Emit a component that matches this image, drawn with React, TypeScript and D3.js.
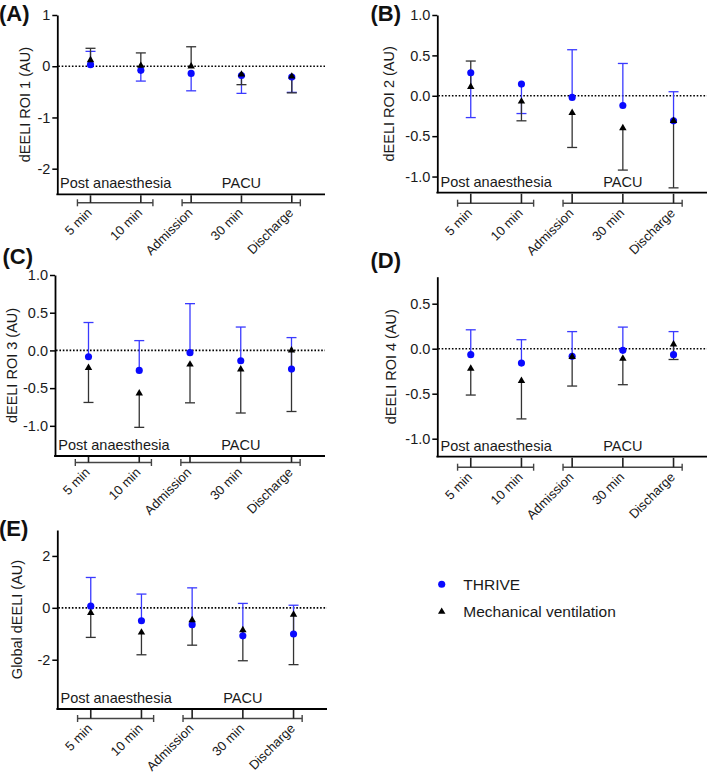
import * as d3 from "d3";
import React, { useEffect, useRef } from "react";

const FONT = "'Liberation Sans', Arial, Helvetica, sans-serif";

const categories = ["5 min", "10 min", "Admission", "30 min", "Discharge"];
const groupLabels = ["Post anaesthesia", "PACU"];
const groupMembers = [
  ["5 min", "10 min"],
  ["Admission", "30 min", "Discharge"],
];
const seriesNames = ["THRIVE", "Mechanical ventilation"];

// mean values and the end of the (one-sided) error bar
const roi1Thrive = [0.03, -0.08, -0.14, -0.18, -0.21];
const roi1ThriveBar = [0.29, -0.29, -0.48, -0.53, -0.51];
const roi1Mv = [0.12, 0.01, 0.0, -0.16, -0.2];
const roi1MvBar = [0.35, 0.26, 0.38, -0.36, -0.52];

const roi2Thrive = [0.285, 0.145, -0.02, -0.12, -0.31];
const roi2ThriveBar = [-0.27, -0.22, 0.57, 0.4, 0.05];
const roi2Mv = [0.11, -0.07, -0.21, -0.4, -0.31];
const roi2MvBar = [0.43, -0.31, -0.64, -0.92, -1.14];

const roi3Thrive = [-0.084, -0.265, -0.03, -0.137, -0.248];
const roi3ThriveBar = [0.37, 0.13, 0.62, 0.31, 0.17];
const roi3Mv = [-0.23, -0.57, -0.186, -0.25, 0.0];
const roi3MvBar = [-0.69, -1.02, -0.695, -0.83, -0.81];

const roi4Thrive = [-0.066, -0.16, -0.085, -0.018, -0.066];
const roi4ThriveBar = [0.21, 0.1, 0.19, 0.24, 0.19];
const roi4Mv = [-0.22, -0.357, -0.09, -0.11, 0.048];
const roi4MvBar = [-0.515, -0.78, -0.415, -0.4, -0.12];

const globalThrive = [0.064, -0.5, -0.65, -1.08, -1.01];
const globalThriveBar = [1.17, 0.53, 0.77, 0.17, 0.1];
const globalMv = [-0.19, -0.95, -0.47, -0.86, -0.26];
const globalMvBar = [-1.14, -1.81, -1.44, -2.04, -2.19];

const panels = [
  {
    tag: "(A)", title: "dEELI ROI 1 (AU)",
    thrive: roi1Thrive, thriveBar: roi1ThriveBar, mv: roi1Mv, mvBar: roi1MvBar,
    domain: [-2.5, 1], ticks: [1, 0, -1, -2], digits: 0,
    box: { left: 57.3, right: 325, top: 15, bottom: 194.3, tagX: -1, tagY: 20.5, titleX: 25, bracket: 8.5 },
  },
  {
    tag: "(B)", title: "dEELI ROI 2 (AU)",
    thrive: roi2Thrive, thriveBar: roi2ThriveBar, mv: roi2Mv, mvBar: roi2MvBar,
    domain: [-1.2, 1], ticks: [1, 0.5, 0, -0.5, -1], digits: 1,
    box: { left: 437.3, right: 707, top: 15, bottom: 192.7, tagX: 370.5, tagY: 20.5, titleX: 389, bracket: 10.5 },
  },
  {
    tag: "(C)", title: "dEELI ROI 3 (AU)",
    thrive: roi3Thrive, thriveBar: roi3ThriveBar, mv: roi3Mv, mvBar: roi3MvBar,
    domain: [-1.4, 1], ticks: [1, 0.5, 0, -0.5, -1], digits: 1,
    box: { left: 55, right: 325, top: 275, bottom: 456, tagX: 2.5, tagY: 264, titleX: 12, bracket: 6.5 },
  },
  {
    tag: "(D)", title: "dEELI ROI 4 (AU)",
    thrive: roi4Thrive, thriveBar: roi4ThriveBar, mv: roi4Mv, mvBar: roi4MvBar,
    domain: [-1.2, 0.8], ticks: [0.5, 0, -0.5, -1], digits: 1,
    box: { left: 437.3, right: 707, top: 276.7, bottom: 456.7, tagX: 370.5, tagY: 268, titleX: 391, bracket: 10.5 },
  },
  {
    tag: "(E)", title: "Global dEELI (AU)",
    thrive: globalThrive, thriveBar: globalThriveBar, mv: globalMv, mvBar: globalMvBar,
    domain: [-3.9, 3], ticks: [2, 0, -2], digits: 0,
    box: { left: 57.3, right: 327, top: 530, bottom: 709, tagX: -1, tagY: 536, titleX: 17, bracket: 9.5 },
  },
];

// bracket overhang (in steps) left / right of each group
const bracketPad = [
  [0.26, 0.24],
  [0.18, 0.17],
];

const BLUE = "#0a0aff";
const BLUE_BAR = "#3a3aff";
const DARK = "#000";
const DARK_BAR = "#333";

const App = () => {
  const svgRef = useRef<SVGSVGElement>(null);

  const renderSVG = () => {
    const svg = d3.select(svgRef.current);
    svg.selectAll("*").remove();
    svg.append("rect").attr("width", 709).attr("height", 774).attr("fill", "#fff");

    const circle = d3.symbol(d3.symbolCircle, 40);
    const triangle = d3.symbol(d3.symbolTriangle, 24);

    panels.forEach((p) => {
      const b = p.box;
      const y = d3.scaleLinear().domain(p.domain).range([b.bottom, b.top]);
      const x = d3
        .scalePoint<string>()
        .domain(categories)
        .range([b.left, b.right])
        .padding(0.66);
      const step = x.step();
      const g = svg.append("g");

      // y axis
      g.append("g")
        .attr("transform", `translate(${b.left},0)`)
        .call(
          d3
            .axisLeft(y)
            .tickValues(p.ticks)
            .tickFormat((d) => (+d).toFixed(p.digits))
            .tickSize(5)
            .tickPadding(2)
            .tickSizeOuter(0)
        )
        .call((a) => {
          a.attr("font-size", 14.5).attr("font-family", FONT);
          a.select(".domain").attr("stroke-width", 1.8);
          a.selectAll(".tick line").attr("stroke-width", 1.5);
          a.selectAll(".tick text").attr("fill", "#1a1a1a");
        });

      // x axis line
      g.append("line")
        .attr("x1", b.left - 0.9)
        .attr("x2", b.right)
        .attr("y1", b.bottom)
        .attr("y2", b.bottom)
        .attr("stroke", "#000")
        .attr("stroke-width", 1.8);

      // zero reference
      g.append("line")
        .attr("x1", b.left + 1)
        .attr("x2", b.right)
        .attr("y1", y(0))
        .attr("y2", y(0))
        .attr("stroke", "#000")
        .attr("stroke-width", 1.6)
        .attr("stroke-dasharray", "1.6 1.8");

      // y title
      g.append("text")
        .attr("transform", `translate(${b.titleX},${(b.top + b.bottom) / 2}) rotate(-90)`)
        .attr("dy", "0.35em")
        .attr("text-anchor", "middle")
        .attr("font-family", FONT)
        .attr("font-size", 14.5)
        .attr("fill", "#1a1a1a")
        .text(p.title);

      // panel tag
      g.append("text")
        .attr("x", b.tagX)
        .attr("y", b.tagY)
        .attr("font-family", FONT)
        .attr("font-weight", "bold")
        .attr("font-size", 22)
        .attr("fill", "#111")
        .text(p.tag);

      // grouped category axis below
      const by = b.bottom + b.bracket;
      groupMembers.forEach((members, gi) => {
        const xs = members.map((m) => x(m) as number);
        const x1 = d3.min(xs)! - bracketPad[gi][0] * step;
        const x2 = d3.max(xs)! + bracketPad[gi][1] * step;
        const br = g.append("g").attr("stroke", "#444").attr("stroke-width", 1.4);
        br.append("line").attr("x1", x1).attr("x2", x2).attr("y1", by).attr("y2", by);
        [x1, x2].forEach((xx) =>
          br.append("line").attr("x1", xx).attr("x2", xx).attr("y1", by - 3.5).attr("y2", by + 3.5)
        );
        g.append("text")
          .attr("x", d3.mean(xs)!)
          .attr("y", b.bottom - 6)
          .attr("text-anchor", "middle")
          .attr("font-family", FONT)
          .attr("font-size", 14.5)
          .attr("fill", "#1a1a1a")
          .text(groupLabels[gi]);
      });

      categories.forEach((c) => {
        const cx = x(c) as number;
        g.append("line")
          .attr("x1", cx)
          .attr("x2", cx)
          .attr("y1", b.bottom + 1)
          .attr("y2", by)
          .attr("stroke", "#222")
          .attr("stroke-width", 1.6);
        g.append("text")
          .attr("transform", `translate(${cx - 1},${by + 7.5}) rotate(-45)`)
          .attr("dy", "0.35em")
          .attr("text-anchor", "end")
          .attr("font-family", FONT)
          .attr("font-size", 13)
          .attr("fill", "#1a1a1a")
          .text(c);
      });

      // error bars: THRIVE first, then mechanical ventilation
      const bars = [
        { mean: p.thrive, end: p.thriveBar, color: BLUE_BAR },
        { mean: p.mv, end: p.mvBar, color: DARK_BAR },
      ];
      bars.forEach((s) => {
        categories.forEach((c, i) => {
          const cx = x(c) as number;
          const eb = g.append("g").attr("stroke", s.color).attr("stroke-width", 1.3);
          eb.append("line").attr("x1", cx).attr("x2", cx).attr("y1", y(s.mean[i])).attr("y2", y(s.end[i]));
          eb.append("line").attr("x1", cx - 5).attr("x2", cx + 5).attr("y1", y(s.end[i])).attr("y2", y(s.end[i]));
        });
      });

      // markers
      categories.forEach((c, i) => {
        g.append("path")
          .attr("d", circle()!)
          .attr("transform", `translate(${x(c)},${y(p.thrive[i])})`)
          .attr("fill", BLUE);
      });
      categories.forEach((c, i) => {
        g.append("path")
          .attr("d", triangle()!)
          .attr("transform", `translate(${x(c)},${y(p.mv[i])})`)
          .attr("fill", DARK);
      });
    });

    // legend
    const legend = svg.append("g").attr("font-family", FONT).attr("font-size", 15.5).attr("fill", "#1a1a1a");
    const legendRows = [
      { sym: circle, color: BLUE, cy: 584.3 },
      { sym: triangle, color: DARK, cy: 611.7 },
    ];
    legendRows.forEach((r, i) => {
      legend
        .append("path")
        .attr("d", r.sym()!)
        .attr("transform", `translate(441.7,${r.cy})`)
        .attr("fill", r.color);
      legend
        .append("text")
        .attr("x", 463.3)
        .attr("y", r.cy)
        .attr("dy", "0.36em")
        .text(seriesNames[i]);
    });
  };

  useEffect(() => {
    renderSVG();
  });

  return (
    <svg
      ref={svgRef}
      width={709}
      height={774}
      style={{ position: "absolute", left: 0, top: 0, display: "block" }}
    />
  );
};

export default App;
